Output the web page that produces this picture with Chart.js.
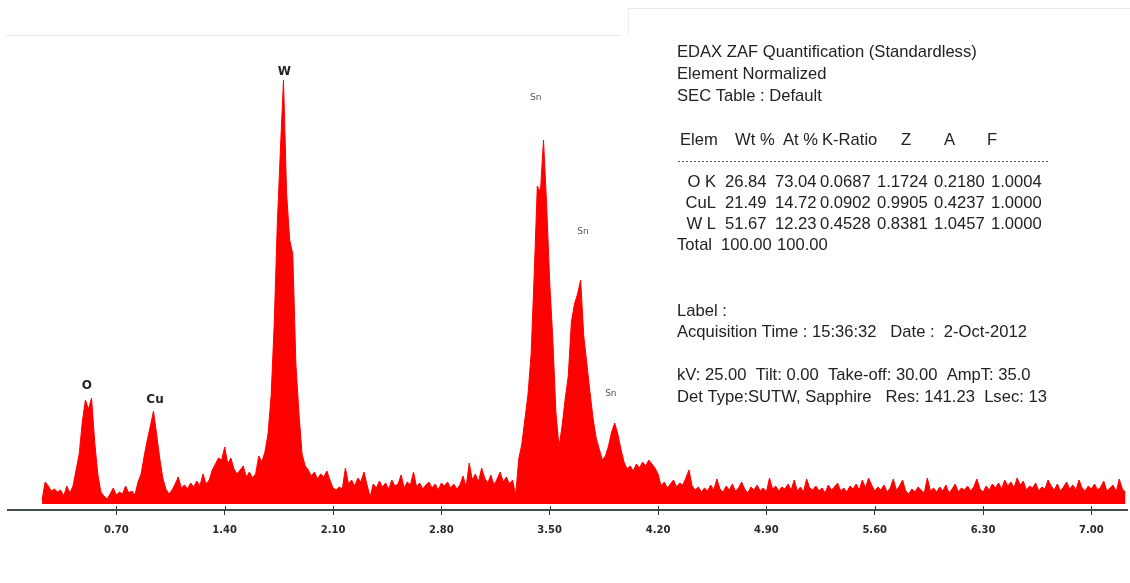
<!DOCTYPE html>
<html>
<head>
<meta charset="utf-8">
<title>EDAX spectrum</title>
<script src="https://cdn.jsdelivr.net/npm/chart.js@4.4.1/dist/chart.umd.min.js"></script>
<style>
  html, body { margin: 0; padding: 0; background: #fff; }
  #wrap { width: 1130px; height: 583px; position: relative; }
</style>
</head>
<body>
<div id="wrap"><canvas id="spectrum" width="1130" height="583"></canvas></div>
<script>
// channel calibration of the spectrum (keV)
var startKeV = 0.22;
var stepKeV = 0.02;

// counts per channel (10 channels per row)
var counts = [
  4, 22, 18, 13, 15, 12, 14, 8, 18, 11,          // 0.22
  18, 34, 50, 82, 104, 95, 106, 62, 30, 12,      // 0.42  O K
  8, 5, 10, 16, 9, 12, 10, 18, 11, 13,           // 0.62
  9, 22, 30, 48, 64, 78, 93, 70, 46, 26,         // 0.82  Cu L
  15, 10, 14, 20, 27, 16, 19, 15, 21, 17,        // 1.02
  23, 18, 30, 20, 24, 34, 40, 46, 44, 57,        // 1.22
  40, 46, 35, 30, 34, 38, 27, 32, 26, 30,        // 1.42
  48, 42, 52, 70, 108, 180, 280, 354, 424, 311,  // 1.62  W M
  264, 250, 140, 90, 50, 38, 34, 28, 32, 25,     // 1.82
  30, 27, 33, 24, 16, 14, 17, 15, 36, 20,        // 2.02
  24, 18, 26, 22, 32, 19, 7, 20, 16, 23,         // 2.22
  17, 21, 15, 24, 18, 20, 29, 16, 22, 19,        // 2.42
  32, 17, 21, 15, 19, 22, 16, 20, 14, 21,        // 2.62
  18, 22, 16, 20, 15, 19, 28, 17, 41, 24,        // 2.82
  30, 22, 36, 26, 21, 29, 19, 25, 32, 22,        // 3.02
  27, 20, 24, 9, 45, 60, 85, 110, 150, 230,      // 3.22
  318, 312, 364, 300, 222, 165, 92, 57, 78, 105, // 3.42  Sn L
  128, 182, 200, 210, 224, 168, 140, 112, 86, 66,// 3.62
  55, 44, 48, 58, 72, 81, 70, 55, 42, 35,        // 3.82
  38, 33, 40, 36, 42, 38, 44, 40, 36, 30,        // 4.02
  18, 22, 16, 20, 24, 17, 21, 19, 26, 34,        // 4.22
  18, 14, 17, 12, 16, 13, 19, 14, 25, 15,        // 4.42
  12, 18, 14, 20, 13, 16, 22, 15, 11, 17,        // 4.62
  14, 19, 13, 16, 12, 26, 15, 18, 13, 17,        // 4.82
  15, 20, 14, 24, 13, 17, 12, 25, 16, 14,        // 5.02
  18, 13, 16, 11, 19, 14, 17, 21, 13, 16,        // 5.22
  12, 18, 15, 20, 14, 24, 16, 26, 19, 13,        // 5.42
  17, 14, 19, 12, 16, 25, 14, 18, 24, 13,        // 5.62
  10, 15, 12, 17, 14, 11, 26, 13, 16, 12,        // 5.82
  17, 13, 19, 11, 15, 20, 12, 16, 14, 18,        // 6.02
  13, 17, 25, 15, 12, 18, 14, 20, 16, 21,        // 6.22
  15, 24, 18, 22, 16, 26, 19, 23, 14, 18,        // 6.42
  16, 21, 13, 17, 15, 24, 18, 14, 20, 13,        // 6.62
  17, 22, 15, 19, 14, 24, 16, 13, 18, 15,        // 6.82
  20, 14, 17, 23, 13, 16, 19, 12, 25, 15,        // 7.02
  12                                             // 7.22
];

var tickValues = [0.70, 1.40, 2.10, 2.80, 3.50, 4.20, 4.90, 5.60, 6.30, 7.00];

// peak labels: energy and height of the label
var peakNames = ['O', 'Cu', 'W', 'Sn', 'Sn', 'Sn'];
var peakKeV = [0.51, 0.95, 1.785, 3.41, 3.715, 3.895];
var peakLabelCounts = [118, 104, 432, 406, 272, 110];

// quantification report
var reportTitle = ['EDAX ZAF Quantification (Standardless)', 'Element Normalized', 'SEC Table : Default'];
var tableHeader = ['Elem', 'Wt %', 'At %', 'K-Ratio', 'Z', 'A', 'F'];
var elements = ['O K', 'CuL', 'W L'];
var wtPct = ['26.84', '21.49', '51.67'];
var atPct = ['73.04', '14.72', '12.23'];
var kRatio = ['0.0687', '0.0902', '0.4528'];
var zFac = ['1.1724', '0.9905', '0.8381'];
var aFac = ['0.2180', '0.4237', '1.0457'];
var fFac = ['1.0004', '1.0000', '1.0000'];
var totals = ['100.00', '100.00'];
var reportFooter = [
  'Label :',
  'Acquisition Time : 15:36:32   Date :  2-Oct-2012',
  '',
  'kV: 25.00  Tilt: 0.00  Take-off: 30.00  AmpT: 35.0',
  'Det Type:SUTW, Sapphire   Res: 141.23  Lsec: 13'
];

var points = counts.map(function (c, i) {
  return { x: +(startKeV + i * stepKeV).toFixed(2), y: c };
});

var textFont = '16.6px "Liberation Sans", Arial, sans-serif';

var overlay = {
  id: 'overlay',
  afterDraw: function (chart) {
    var ctx = chart.ctx;
    var xs = chart.scales.x, ys = chart.scales.y;
    ctx.save();

    // faint frame left over from the screenshot
    ctx.strokeStyle = '#ececec';
    ctx.lineWidth = 1;
    ctx.beginPath();
    ctx.moveTo(6, 35.5); ctx.lineTo(622, 35.5);
    ctx.moveTo(628.5, 8); ctx.lineTo(628.5, 35);
    ctx.moveTo(629, 8.5); ctx.lineTo(1130, 8.5);
    ctx.stroke();

    // small tick marks crossing the axis line
    ctx.strokeStyle = '#333';
    ctx.beginPath();
    tickValues.forEach(function (v) {
      var px = Math.round(xs.getPixelForValue(v)) + 0.5;
      ctx.moveTo(px, ys.bottom - 4);
      ctx.lineTo(px, ys.bottom);
    });
    ctx.stroke();

    // peak labels
    ctx.textAlign = 'center';
    ctx.textBaseline = 'middle';
    peakNames.forEach(function (name, i) {
      var px = xs.getPixelForValue(peakKeV[i]);
      var py = ys.getPixelForValue(peakLabelCounts[i]);
      if (name === 'Sn') {
        ctx.font = '9px "DejaVu Sans", sans-serif';
        ctx.fillStyle = '#555';
      } else {
        ctx.font = 'bold 12px "DejaVu Sans", sans-serif';
        ctx.fillStyle = '#222';
      }
      ctx.fillText(name, px, py);
    });

    // report block
    ctx.textAlign = 'left';
    ctx.fillStyle = '#222';
    ctx.font = textFont;
    reportTitle.forEach(function (line, i) {
      ctx.fillText(line, 677, 52 + i * 22);
    });

    var headX = [680, 735, 783, 822, 901, 944, 987];
    tableHeader.forEach(function (h, i) {
      ctx.fillText(h, headX[i], 140);
    });

    ctx.strokeStyle = '#555';
    ctx.setLineDash([2, 2]);
    ctx.beginPath();
    ctx.moveTo(678, 161.5);
    ctx.lineTo(1050, 161.5);
    ctx.stroke();
    ctx.setLineDash([]);

    var colX = [725, 775, 820, 877, 934, 991];
    elements.forEach(function (el, r) {
      var y = 182 + r * 21;
      ctx.textAlign = 'right';
      ctx.fillText(el, 716, y);
      ctx.textAlign = 'left';
      [wtPct, atPct, kRatio, zFac, aFac, fFac].forEach(function (col, c) {
        ctx.fillText(col[r], colX[c], y);
      });
    });
    ctx.fillText('Total', 677, 245);
    ctx.fillText(totals[0], 721, 245);
    ctx.fillText(totals[1], 777, 245);

    reportFooter.forEach(function (line, i) {
      if (line) ctx.fillText(line, 677, 311 + i * 21.5);
    });

    ctx.restore();
  }
};

new Chart(document.getElementById('spectrum'), {
  type: 'line',
  data: {
    datasets: [{
      data: points,
      borderColor: '#ff0000',
      backgroundColor: '#ff0000',
      borderWidth: 1,
      pointRadius: 0,
      tension: 0,
      fill: 'origin'
    }]
  },
  options: {
    responsive: false,
    animation: false,
    devicePixelRatio: 1,
    layout: { padding: { left: 8, right: 3, top: 60, bottom: 0 } },
    plugins: {
      legend: { display: false },
      tooltip: { enabled: false }
    },
    scales: {
      x: {
        type: 'linear',
        min: 0,
        max: 7.23,
        afterBuildTicks: function (scale) {
          scale.ticks = tickValues.map(function (v) { return { value: v }; });
        },
        afterFit: function (scale) { scale.height = 73; },
        border: { display: true, color: '#3e4d50', width: 2 },
        grid: {
          drawOnChartArea: false,
          drawTicks: true,
          tickLength: 5,
          color: '#333',
          lineWidth: 1
        },
        ticks: {
          autoSkip: false,
          maxRotation: 0,
          padding: 9,
          color: '#2a2a2a',
          font: { family: '"DejaVu Sans", sans-serif', size: 10, weight: 'bold' },
          callback: function (v) { return Number(v).toFixed(2); }
        }
      },
      y: {
        display: false,
        min: -6,
        max: 444
      }
    }
  },
  plugins: [overlay]
});
</script>
</body>
</html>
